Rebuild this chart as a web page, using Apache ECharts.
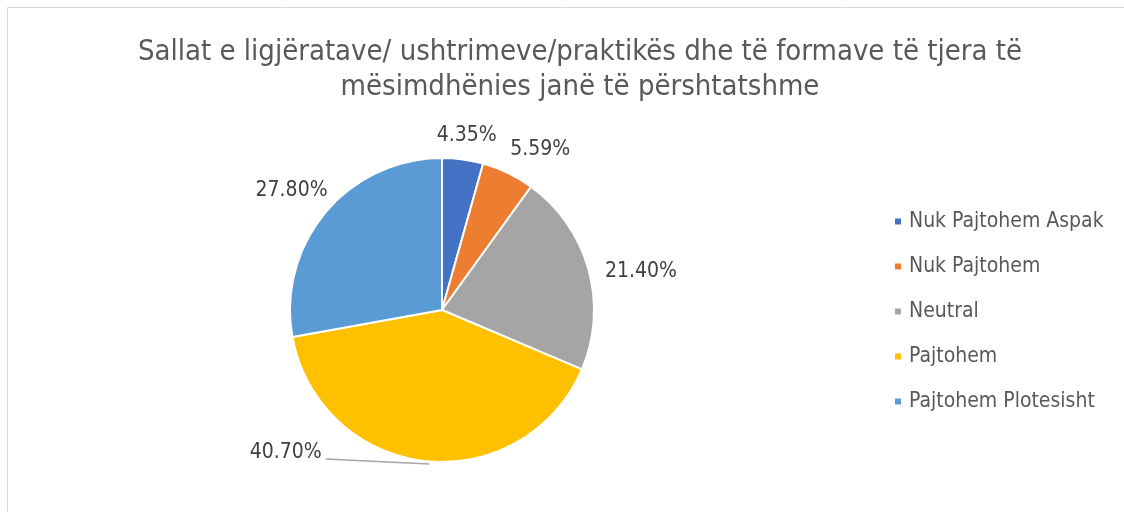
<!DOCTYPE html>
<html>
<head>
    <meta charset="utf-8"/>
    <title>Sallat</title>
    <script src="https://cdn.jsdelivr.net/npm/echarts@6/dist/echarts.min.js"></script>
    <style>
        html, body { margin: 0; padding: 0; background: #fff; }
    </style>
</head>
<body>
<div id="main" style="width: 1124px; height: 512px;"></div>
<script type="text/javascript">
    var titleText = 'Sallat e ligjëratave/ ushtrimeve/praktikës dhe të formave të tjera të\nmësimdhënies janë të përshtatshme';
    var categories = ['Nuk Pajtohem Aspak', 'Nuk Pajtohem', 'Neutral', 'Pajtohem', 'Pajtohem Plotesisht'];
    var values = [4.35, 5.59, 21.40, 40.70, 27.80];
    var colors = ['#4472C4', '#ED7D31', '#A5A5A5', '#FFC000', '#5B9BD5'];

    // small nudges of the data labels (Excel "best fit" placement)
    var labelNudge = [[-33, -10], [-9, -11], [-2, 6], [-3, -12], [18, -13]];

    var font = '"DejaVu Sans Condensed", "DejaVu Sans", sans-serif';
    var myChart = echarts.init(document.getElementById('main'));

    var pieData = categories.map(function (name, i) {
        var item = { name: name, value: values[i], itemStyle: { color: colors[i] } };
        if (name === 'Pajtohem') {
            item.labelLine = { show: true, length: 4, length2: 95 };
        }
        return item;
    });

    myChart.setOption({
        backgroundColor: '#fff',
        graphic: [{
            type: 'rect',
            shape: { x: 7.5, y: 7.5, width: 1200, height: 600 },
            style: { fill: 'none', stroke: '#d9d9d9', lineWidth: 1 },
            silent: true
        }],
        title: {
            text: titleText,
            left: 575,
            top: 30,
            textAlign: 'center',
            textStyle: {
                fontFamily: font,
                fontSize: 29,
                fontWeight: 'normal',
                color: '#595959',
                lineHeight: 35
            }
        },
        legend: {
            orient: 'vertical',
            left: 888,
            top: 206,
            icon: 'rect',
            itemWidth: 8,
            itemHeight: 8,
            itemGap: 24,
            textStyle: { fontFamily: font, fontSize: 21, color: '#595959', lineHeight: 16, padding: [0, 0, 0, 2] },
            data: categories
        },
        series: [{
            type: 'pie',
            center: [442, 310],
            radius: [0, 152],
            startAngle: 90,
            clockwise: true,
            avoidLabelOverlap: false,
            itemStyle: { borderColor: '#fff', borderWidth: 2 },
            label: {
                show: true,
                position: 'outside',
                fontFamily: font,
                fontSize: 21,
                color: '#404040',
                formatter: function (p) { return p.value.toFixed(2) + '%'; }
            },
            labelLine: {
                show: false,
                length: 14,
                length2: 0,
                lineStyle: { color: '#a6a6a6', width: 1.5 }
            },
            labelLayout: function (params) {
                var n = labelNudge[params.dataIndex];
                var out = { hideOverlap: false, dx: n[0], dy: n[1] };
                var pts = params.labelLinePoints;
                if (pts && categories[params.dataIndex] === 'Pajtohem') {
                    var r = params.labelRect;
                    out.labelLinePoints = [
                        [pts[0][0] + 4, pts[0][1] + 3],
                        [r.x + r.width + n[0] + 4, r.y + r.height / 2 + n[1] + 6]
                    ];
                }
                return out;
            },
            emphasis: { disabled: true },
            animation: false,
            data: pieData
        }]
    });
</script>
</body>
</html>
